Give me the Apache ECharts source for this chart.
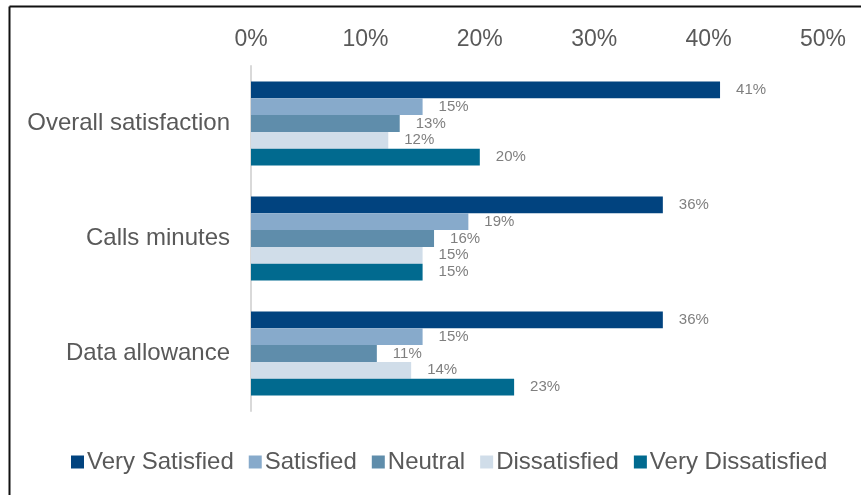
<!DOCTYPE html>
<html>
<head>
<meta charset="utf-8">
<script src="https://cdn.jsdelivr.net/npm/echarts@6/dist/echarts.min.js"></script>
<style>
  html, body { margin: 0; padding: 0; background: #ffffff; }
  #chart { width: 861px; height: 495px; }
</style>
</head>
<body>
<div id="chart"></div>
<script>
// Survey categories (top to bottom)
const categories = ['Overall satisfaction', 'Calls minutes', 'Data allowance'];

// Response shares per category, in percent
const verySatisfied = [41, 36, 36];
const satisfied = [15, 19, 15];
const neutral = [13, 16, 11];
const dissatisfied = [12, 15, 14];
const veryDissatisfied = [20, 15, 23];

const seriesNames = ['Very Satisfied', 'Satisfied', 'Neutral', 'Dissatisfied', 'Very Dissatisfied'];
const seriesValues = [verySatisfied, satisfied, neutral, dissatisfied, veryDissatisfied];
const seriesColors = ['#01437f', '#87aacb', '#5f8dab', '#d0dde9', '#016a8f'];

const xTicks = { min: 0, max: 50, interval: 10 };

const fontFamily = '"Liberation Sans", Arial, sans-serif';
const chart = echarts.init(document.getElementById('chart'));

chart.setOption({
  animation: false,
  textStyle: { fontFamily: fontFamily },
  graphic: [
    { type: 'line', shape: { x1: 9.5, y1: 6.5, x2: 861, y2: 6.5 }, style: { stroke: '#111', lineWidth: 2 } },
    { type: 'line', shape: { x1: 9.5, y1: 6.5, x2: 9.5, y2: 495 }, style: { stroke: '#111', lineWidth: 2 } }
  ],
  legend: {
    bottom: 16,
    left: 66,
    itemWidth: 13,
    itemHeight: 13,
    itemGap: 15,
    icon: 'rect',
    textStyle: { fontSize: 24, color: '#595959', fontFamily: fontFamily, padding: [0, 0, 0, -2] },
    data: seriesNames
  },
  grid: { left: 251, right: 38, top: 66, bottom: 84, containLabel: false },
  xAxis: {
    type: 'value',
    position: 'top',
    min: xTicks.min,
    max: xTicks.max,
    interval: xTicks.interval,
    axisLine: { show: false },
    axisTick: { show: false },
    splitLine: { show: false },
    axisLabel: {
      fontSize: 23,
      color: '#595959',
      margin: 15,
      formatter: v => v + '%'
    }
  },
  yAxis: {
    type: 'category',
    inverse: true,
    data: categories,
    axisLine: { show: true, lineStyle: { color: '#d9d9d9', width: 2 } },
    axisTick: { show: false },
    axisLabel: { fontSize: 24, color: '#595959', margin: 21 }
  },
  series: seriesValues.map((vals, i) => ({
    name: seriesNames[i],
    type: 'bar',
    data: vals,
    barGap: '0%',
    barCategoryGap: '27%',
    itemStyle: { color: seriesColors[i] },
    label: {
      show: true,
      position: 'right',
      distance: 16,
      fontSize: 15,
      color: '#7f7f7f',
      formatter: p => p.value + '%'
    }
  }))
});
</script>
</body>
</html>
